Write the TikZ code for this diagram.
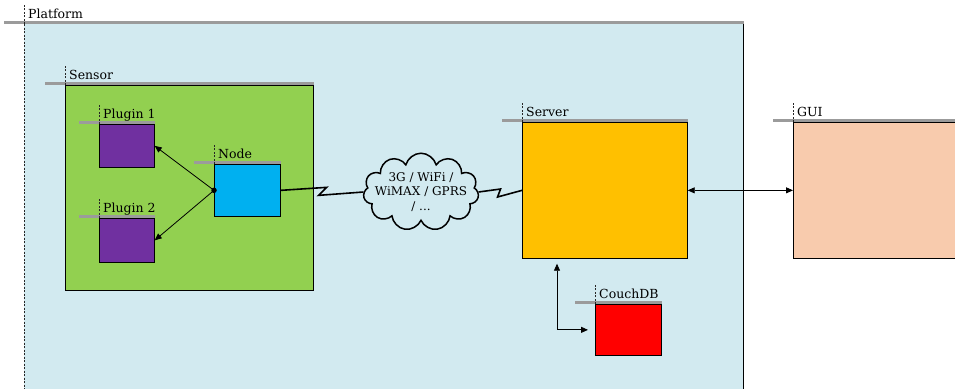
\documentclass[tikz,border=0pt]{standalone}
\usepackage{fontspec}
\setmainfont{DejaVu Serif}
\usetikzlibrary{arrows.meta,shapes.symbols}

\definecolor{platformblue}{RGB}{210,234,240}
\definecolor{sensorgreen}{RGB}{146,208,80}
\definecolor{pluginpurple}{RGB}{112,48,160}
\definecolor{nodeblue}{RGB}{0,176,240}
\definecolor{serveramber}{RGB}{255,192,0}
\definecolor{dbred}{RGB}{255,0,0}
\definecolor{guipeach}{RGB}{248,203,173}
\definecolor{bargray}{RGB}{155,155,155}

\begin{document}
\begin{tikzpicture}[x=1pt,y=-1pt,
    box/.style={rectangle,draw=black,line width=0.7pt,anchor=north west,inner sep=0pt},
    bar/.style={draw=bargray,line width=2.6pt},
    tick/.style={draw=black!85,line width=0.7pt,dash pattern=on 2pt off 1.5pt},
    lbl/.style={anchor=base west,inner sep=0pt,font=\fontsize{12.5}{14}\selectfont},
    arr/.style={line width=0.8pt,-{Triangle[length=7pt,width=6pt]}},
    arrboth/.style={line width=0.8pt,{Triangle[length=7pt,width=6pt]}-{Triangle[length=7pt,width=6pt]}},
    bolt/.style={line width=1.6pt,line join=miter}]

  \useasboundingbox (0,0) rectangle (955,388);
  \clip (0,0) rectangle (955,388);

  % containers and boxes
  \node[box,draw=none,fill=platformblue,minimum width=719pt,minimum height=380pt] (platform) at (24,24) {};
  \draw[line width=0.7pt] (platform.north east) -- (platform.south east);
  \draw[tick] (platform.north west) -- (platform.south west);

  \node[box,fill=sensorgreen,minimum width=248pt,minimum height=205pt] (sensor) at (65,85) {};
  \node[box,fill=pluginpurple,minimum width=55pt,minimum height=43pt] (plugina) at (99,124) {};
  \node[box,fill=pluginpurple,minimum width=55pt,minimum height=44pt] (pluginb) at (99,218) {};
  \node[box,fill=nodeblue,minimum width=66pt,minimum height=52pt] (nodebox) at (214,164) {};
  \node[box,fill=serveramber,minimum width=165pt,minimum height=136pt] (server) at (522,122) {};
  \node[box,fill=dbred,minimum width=66pt,minimum height=51pt] (couchdb) at (595,304) {};
  \node[box,fill=guipeach,minimum width=200pt,minimum height=136pt] (gui) at (793,122) {};

  % title bars
  \foreach \b/\t in {platform/Platform,sensor/Sensor,plugina/Plugin 1,pluginb/Plugin 2,
                     nodebox/Node,server/Server,couchdb/CouchDB,gui/GUI} {
    \draw[bar] ([xshift=-20pt,yshift=1.3pt]\b.north west) -- ([yshift=1.3pt]\b.north east);
    \draw[tick] (\b.north west) -- ++(0,-19);
    \node[lbl] (\b-lbl) at ([xshift=4pt,yshift=5.5pt]\b.north west) {\t};
  }

  % network
  \node[cloud,cloud puffs=11,aspect=1.9,draw=black,line width=1.5pt,fill=platformblue,
        align=center,inner xsep=-8pt,inner ysep=-5pt,
        font=\fontsize{12}{14.5}\selectfont] (cloud) at (421,192)
        {3G / WiFi /\\WiMAX / GPRS\\/ ...};

  \node[circle,fill=black,inner sep=0pt,minimum size=5.5pt] (hub) at (nodebox.west) {};

  \draw[arr] (hub.center) -- (plugina.east);
  \draw[arr] (hub.center) -- (pluginb.east);

  \draw[bolt] (nodebox.east) -- ++(46,-3) -- ++(-8,8) -- (cloud.west);
  \draw[bolt] (cloud.east) -- ++(22,-3) -- ++(-3,8) -- (server.west);

  \coordinate (dbtap) at (557,0);
  \draw[arrboth,shorten <=5pt,shorten >=7pt] (server.south -| dbtap) |- (couchdb.west);
  \draw[arrboth] (server.east) -- (gui.west);

\end{tikzpicture}
\end{document}
